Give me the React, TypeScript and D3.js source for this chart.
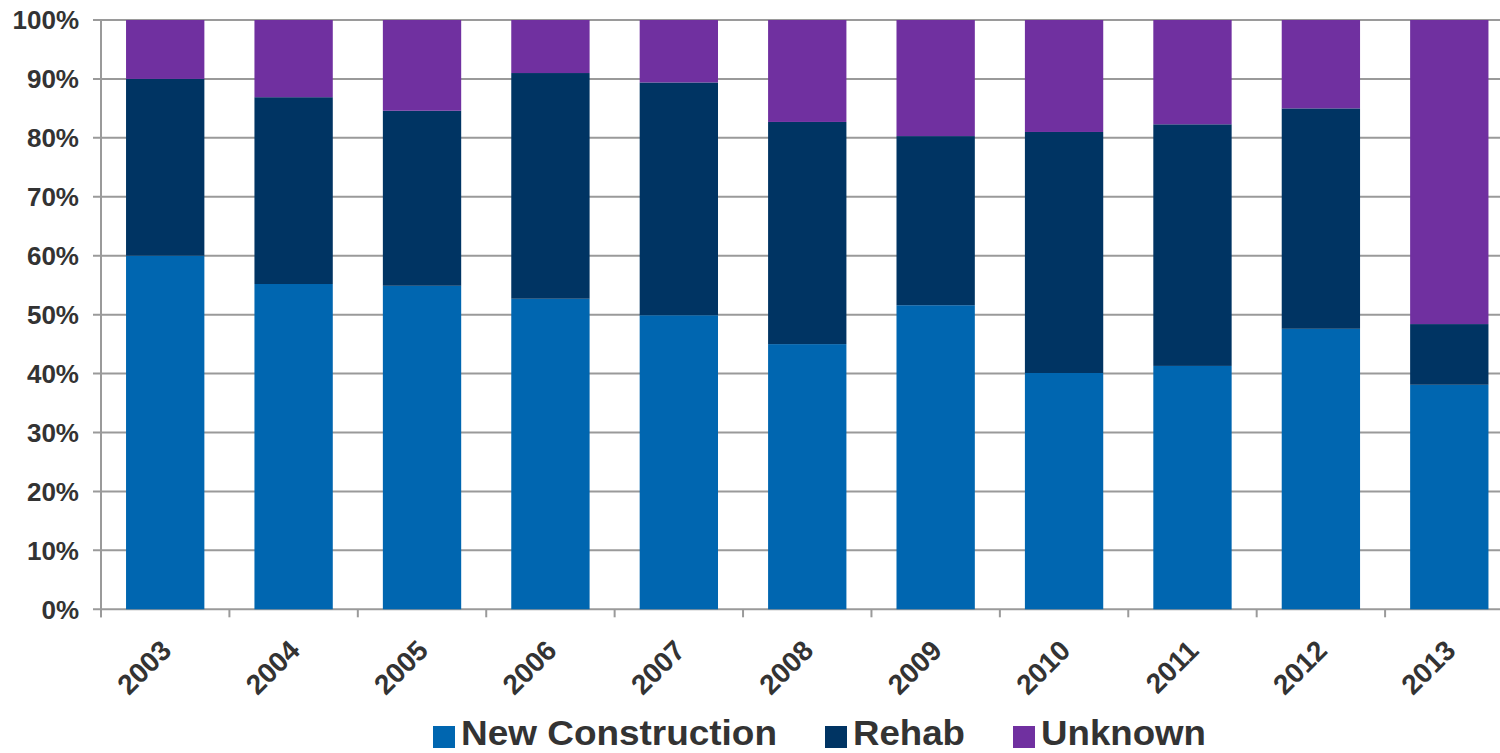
import React, { useEffect, useRef } from "react";
import * as d3 from "d3";

const years = ["2003", "2004", "2005", "2006", "2007", "2008", "2009", "2010", "2011", "2012", "2013"];
const newConstruction = [60.0, 55.2, 54.9, 52.7, 49.9, 45.0, 51.6, 40.1, 41.3, 47.6, 38.1];
const rehab = [30.0, 31.7, 29.7, 38.3, 39.5, 37.7, 28.7, 40.9, 41.0, 37.4, 10.3];
const unknown = [10.0, 13.1, 15.4, 9.0, 10.6, 17.3, 19.7, 19.0, 17.7, 15.0, 51.6];
const seriesNames = ["New Construction", "Rehab", "Unknown"];
const seriesColors = ["#0066B0", "#003463", "#7030A0"];
const yTicks = [0, 10, 20, 30, 40, 50, 60, 70, 80, 90, 100];

export default function App() {
  const ref = useRef<SVGSVGElement>(null);
  useEffect(() => {
    const svg = d3.select(ref.current);
    svg.selectAll("*").remove();
    const left = 101, top = 20, bottom = 609.3, right = 1513.5;
    const x = d3.scaleBand().domain(years).range([left, right]).paddingInner(0.39).paddingOuter(0.195);
    const y = d3.scaleLinear().domain([0, 100]).range([bottom, top]);
    const font = "'Liberation Sans', Arial, sans-serif";

    // gridlines
    svg.append("g").selectAll("line").data(yTicks).join("line")
      .attr("x1", left - 8).attr("x2", 1500)
      .attr("y1", d => y(d)).attr("y2", d => y(d))
      .attr("stroke", "#9a9a9a").attr("stroke-width", 2);

    const table = years.map((yr, i) => ({ year: yr, nc: newConstruction[i], rehab: rehab[i], unknown: unknown[i] }));
    const stack = d3.stack<any>().keys(["nc", "rehab", "unknown"])(table);
    svg.append("g").selectAll("g").data(stack).join("g")
      .attr("fill", (_, i) => seriesColors[i])
      .selectAll("rect").data(d => d).join("rect")
      .attr("x", d => x(d.data.year)!)
      .attr("width", x.bandwidth())
      .attr("y", d => y(Math.min(d[1], 100)))
      .attr("height", d => y(d[0]) - y(Math.min(d[1], 100)));

    // axes lines
    svg.append("line").attr("x1", left).attr("x2", left).attr("y1", top).attr("y2", bottom + 8)
      .attr("stroke", "#9a9a9a").attr("stroke-width", 2);
    const step = x.step();
    const xt = d3.range(years.length + 1).map(i => left + i * step);
    svg.append("g").selectAll("line").data(xt).join("line")
      .attr("x1", d => d).attr("x2", d => d).attr("y1", bottom).attr("y2", bottom + 8)
      .attr("stroke", "#9a9a9a").attr("stroke-width", 2);

    // y labels
    svg.append("g").selectAll("text").data(yTicks).join("text")
      .attr("x", 79).attr("y", d => y(d)).attr("dy", "0.36em")
      .attr("text-anchor", "end").attr("font-family", font).attr("font-weight", "bold")
      .attr("font-size", 26).attr("fill", "#333").text(d => d + "%");

    // x labels
    svg.append("g").selectAll("text").data(years).join("text")
      .attr("transform", d => `translate(${x(d)! + x.bandwidth() / 2 - 6},${bottom + 29}) rotate(-45)`)
      .attr("text-anchor", "end").attr("dy", "0.7em")
      .attr("font-family", font).attr("font-weight", "bold")
      .attr("font-size", 28).attr("fill", "#333").text(d => d);

    // legend
    const legendX = [433, 825, 1013];
    const legendW = [316, 112, 165];
    const lg = svg.append("g").selectAll("g").data(seriesNames).join("g")
      .attr("transform", (_, i) => `translate(${legendX[i]},0)`);
    lg.append("rect").attr("x", 0).attr("y", 726).attr("width", 22).attr("height", 22)
      .attr("fill", (_, i) => seriesColors[i]);
    lg.append("text").attr("x", 28).attr("y", 745)
      .attr("font-family", font).attr("font-weight", "bold").attr("font-size", 35)
      .attr("textLength", (_, i) => legendW[i]).attr("lengthAdjust", "spacingAndGlyphs")
      .attr("fill", "#333").text(d => d);
  }, []);
  return (
    <svg ref={ref} width={1500} height={753}
      style={{ position: "absolute", left: 0, top: 0, background: "#fff" }} />
  );
}
